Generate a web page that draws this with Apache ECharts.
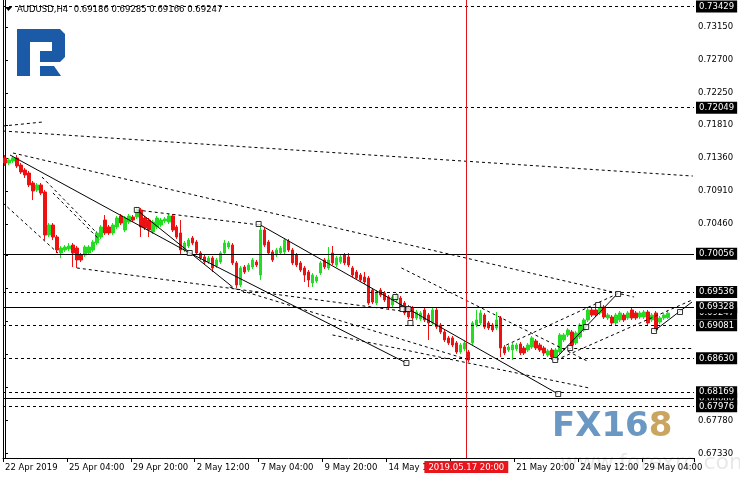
<!DOCTYPE html>
<html><head><meta charset="utf-8">
<script src="https://cdn.jsdelivr.net/npm/echarts@6/dist/echarts.min.js"></script>
<style>html,body{margin:0;padding:0;background:#fff}#c{width:740px;height:480px}</style>
</head><body><div id="c"></div><script>
// ---- data ----
const symbolTitle = 'AUDUSD,H4  0.69186 0.69285 0.69166 0.69247';
// [open, close, low, high]
const candles = [
[0.71363,0.71295,0.71254,0.71404],[0.71295,0.71336,0.71267,0.71363],[0.71322,0.71363,0.71295,0.71390],[0.71363,0.71254,0.71226,0.71404],
[0.71267,0.71172,0.71145,0.71295],[0.71199,0.71131,0.71090,0.71226],[0.71158,0.70995,0.70967,0.71186],[0.71022,0.70913,0.70790,0.71049],
[0.70926,0.70995,0.70899,0.71022],[0.70995,0.70885,0.70858,0.71022],[0.70899,0.70313,0.70244,0.70926],[0.70313,0.70449,0.70285,0.70476],
[0.70449,0.70285,0.70244,0.70476],[0.70285,0.70108,0.70067,0.70313],[0.70067,0.70135,0.69999,0.70163],[0.70108,0.70149,0.70081,0.70176],
[0.70122,0.70163,0.70094,0.70203],[0.70176,0.70067,0.69876,0.70203],[0.70135,0.69972,0.69863,0.70163],[0.70040,0.69972,0.69944,0.70067],
[0.70040,0.70149,0.70013,0.70176],[0.70067,0.70149,0.70040,0.70176],[0.70108,0.70217,0.70081,0.70244],[0.70203,0.70340,0.70176,0.70367],
[0.70285,0.70422,0.70258,0.70449],[0.70517,0.70340,0.70313,0.70585],[0.70422,0.70340,0.70313,0.70449],[0.70340,0.70449,0.70313,0.70476],
[0.70422,0.70545,0.70394,0.70572],[0.70572,0.70476,0.70449,0.70599],[0.70381,0.70545,0.70354,0.70572],[0.70490,0.70572,0.70463,0.70599],
[0.70558,0.70517,0.70490,0.70585],[0.70558,0.70654,0.70531,0.70695],[0.70654,0.70422,0.70285,0.70681],[0.70545,0.70408,0.70381,0.70572],
[0.70517,0.70381,0.70285,0.70545],[0.70354,0.70490,0.70326,0.70517],[0.70422,0.70545,0.70394,0.70572],[0.70449,0.70517,0.70422,0.70545],
[0.70504,0.70531,0.70476,0.70558],[0.70490,0.70572,0.70463,0.70599],[0.70572,0.70381,0.70354,0.70599],[0.70422,0.70285,0.70258,0.70449],
[0.70340,0.70108,0.70040,0.70517],[0.70108,0.70203,0.70081,0.70231],[0.70163,0.70244,0.70135,0.70272],[0.70272,0.70203,0.70176,0.70299],
[0.70217,0.70067,0.70040,0.70244],[0.70067,0.69999,0.69972,0.70094],[0.70013,0.69944,0.69917,0.70040],[0.69944,0.69999,0.69917,0.70026],
[0.69999,0.69863,0.69808,0.70026],[0.69890,0.69972,0.69863,0.69999],[0.69944,0.70067,0.69917,0.70094],[0.70067,0.70203,0.70040,0.70244],
[0.70149,0.70203,0.70122,0.70231],[0.70176,0.69931,0.69903,0.70203],[0.69931,0.69631,0.69590,0.69958],[0.69631,0.69863,0.69603,0.69890],
[0.69876,0.69808,0.69781,0.69903],[0.69835,0.69903,0.69808,0.69931],[0.69876,0.69972,0.69849,0.69999],[0.69944,0.69903,0.69876,0.69972],
[0.69767,0.70381,0.69699,0.70476],[0.70381,0.70176,0.70149,0.70408],[0.70217,0.70067,0.70040,0.70244],[0.70081,0.69972,0.69944,0.70108],
[0.70040,0.70108,0.70013,0.70135],[0.70067,0.70135,0.70040,0.70163],[0.70081,0.70244,0.70053,0.70272],[0.70231,0.70108,0.70081,0.70258],
[0.70108,0.69931,0.69903,0.70135],[0.70040,0.69903,0.69876,0.70067],[0.69931,0.69835,0.69808,0.69958],[0.69863,0.69767,0.69672,0.69890],
[0.69808,0.69699,0.69603,0.69835],[0.69658,0.69767,0.69603,0.69794],[0.69685,0.69740,0.69658,0.69767],[0.69794,0.69931,0.69767,0.69958],
[0.69972,0.69876,0.69849,0.69999],[0.69863,0.69972,0.69835,0.70149],[0.70067,0.69931,0.69903,0.70163],[0.69903,0.69999,0.69876,0.70026],
[0.69944,0.70013,0.69917,0.70040],[0.70040,0.69931,0.69903,0.70067],[0.70013,0.69903,0.69876,0.70067],[0.69863,0.69767,0.69740,0.69890],
[0.69808,0.69726,0.69699,0.69835],[0.69767,0.69699,0.69672,0.69794],[0.69740,0.69672,0.69644,0.69808],[0.69726,0.69385,0.69358,0.69753],
[0.69562,0.69399,0.69371,0.69590],[0.69385,0.69535,0.69358,0.69562],[0.69562,0.69494,0.69467,0.69590],[0.69521,0.69426,0.69399,0.69549],
[0.69467,0.69331,0.69303,0.69494],[0.69358,0.69467,0.69331,0.69494],[0.69426,0.69494,0.69399,0.69521],[0.69453,0.69317,0.69290,0.69481],
[0.69385,0.69249,0.69221,0.69412],[0.69331,0.69194,0.69167,0.69358],[0.69317,0.69181,0.69154,0.69344],[0.69181,0.69262,0.69154,0.69290],
[0.69167,0.69249,0.69140,0.69276],[0.69290,0.69154,0.69126,0.69317],[0.69221,0.69113,0.68881,0.69249],[0.69113,0.69290,0.69085,0.69317],
[0.69290,0.69058,0.69031,0.69317],[0.69085,0.68990,0.68963,0.69113],[0.68990,0.68881,0.68853,0.69017],[0.68908,0.68840,0.68812,0.68935],
[0.68908,0.68812,0.68785,0.68935],[0.68840,0.68717,0.68690,0.68867],[0.68717,0.68812,0.68690,0.68840],[0.68758,0.68840,0.68731,0.68867],
[0.68717,0.68608,0.68581,0.68744],[0.68840,0.69113,0.68812,0.69140],[0.69085,0.69154,0.69058,0.69290],[0.69113,0.69249,0.69085,0.69290],
[0.69221,0.69058,0.69031,0.69249],[0.69113,0.69044,0.69017,0.69140],[0.69085,0.69017,0.68990,0.69113],[0.69044,0.69154,0.69017,0.69262],
[0.69181,0.68771,0.68649,0.69208],[0.68785,0.68703,0.68676,0.68812],[0.68744,0.68785,0.68717,0.68812],[0.68744,0.68812,0.68608,0.68840],
[0.68758,0.68812,0.68731,0.68840],[0.68826,0.68703,0.68676,0.68853],[0.68771,0.68703,0.68676,0.68799],[0.68744,0.68812,0.68717,0.68840],
[0.68785,0.68908,0.68758,0.68935],[0.68867,0.68771,0.68744,0.68894],[0.68812,0.68744,0.68717,0.68840],[0.68771,0.68703,0.68662,0.68799],
[0.68676,0.68731,0.68649,0.68758],[0.68744,0.68649,0.68608,0.68771],[0.68649,0.68744,0.68622,0.68771],[0.68717,0.68949,0.68690,0.68976],
[0.68881,0.68949,0.68853,0.68976],[0.68949,0.69017,0.68922,0.69044],[0.68990,0.68812,0.68771,0.69017],[0.68840,0.68976,0.68812,0.69004],
[0.68922,0.69085,0.68894,0.69113],[0.69017,0.69154,0.68990,0.69181],[0.69154,0.69290,0.69126,0.69317],[0.69290,0.69221,0.69194,0.69317],
[0.69290,0.69221,0.69194,0.69317],[0.69249,0.69331,0.69221,0.69358],[0.69331,0.69194,0.69167,0.69358],[0.69181,0.69221,0.69154,0.69249],
[0.69194,0.69113,0.69085,0.69221],[0.69113,0.69221,0.69085,0.69249],[0.69154,0.69249,0.69126,0.69276],[0.69221,0.69154,0.69126,0.69249],
[0.69181,0.69249,0.69154,0.69276],[0.69290,0.69181,0.69154,0.69331],[0.69249,0.69181,0.69154,0.69276],[0.69194,0.69249,0.69167,0.69276],
[0.69194,0.69262,0.69167,0.69290],[0.69262,0.69113,0.69085,0.69290],[0.69154,0.69221,0.69126,0.69249],[0.69249,0.69017,0.68990,0.69276],
[0.69126,0.69181,0.69099,0.69208],[0.69181,0.69221,0.69154,0.69249],[0.69186,0.69247,0.69166,0.69285]
];
const slotCount = 173;
const xTickLabels = ['22 Apr 2019','25 Apr 04:00','29 Apr 20:00','2 May 12:00','7 May 04:00','9 May 20:00','14 May 12:00','','21 May 20:00','24 May 12:00','29 May 04:00'];
const xTickStep = 16;
const yTickValues = [0.6733,0.6778,0.6823,0.6868,0.6913,0.6958,0.7003,0.7046,0.7091,0.7136,0.7181,0.7225,0.7270,0.7315];
const yLabelValues = [0.6733,0.6778,0.7046,0.7091,0.7136,0.7181,0.7225,0.7270,0.7315];
const yMin = 0.67271, yMax = 0.73518;
const dashedLevels = [0.73429,0.72049,0.69536,0.69081,0.68630,0.68169,0.67976];
const solidLevels = [0.70056,0.69328,0.68080];
const priceTags = [0.69247,0.68080,0.73429,0.72049,0.70056,0.69536,0.69328,0.69081,0.68630,0.68169,0.67976];
// trend lines: [[barIndex, price],[barIndex, price]]
const solidTrendLines = [
  [[1.25,0.71404],[46.25,0.70067]],
  [[46.25,0.70067],[100.5,0.68567]],
  [[33,0.70654],[57,0.69603]],
  [[63.5,0.70463],[138.5,0.68144]],
  [[137.5,0.68608],[153.5,0.69521]],
  [[162.5,0.69003],[172,0.69399]]
];
const dashedTrendLines = [
  [[-0.5,0.71731],[172.2,0.71117]],
  [[2,0.71431],[157.5,0.69467]],
  [[-0.5,0.71799],[9.5,0.71854]],
  [[33,0.70654],[63.75,0.70449]],
  [[99.25,0.69863],[146.25,0.68581]],
  [[18,0.69863],[101.25,0.69262]],
  [[56.25,0.69603],[116.25,0.68608]],
  [[82,0.68949],[146.25,0.68226]],
  [[9.25,0.71104],[23,0.70340]],
  [[12,0.70886],[23.75,0.70244]],
  [[-0.5,0.70749],[13.25,0.70067]],
  [[125.5,0.68812],[153.75,0.69521]],
  [[138,0.68608],[172,0.69426]],
  [[139.5,0.68771],[172.4,0.68771]]
];
const pivotMarks = [[33,0.70654],[63.5,0.70463],[46.25,0.70067],[97.75,0.69467],[99.5,0.69303],[101,0.69303],[101.5,0.69113],
  [100.5,0.68567],[137.75,0.68608],[141.5,0.68771],[145.5,0.69058],[148.5,0.69358],[153.5,0.69508],[162.5,0.69003],[169,0.69262],[138.5,0.68144]];
const cursorBar = 115.5;
const cursorLabel = '2019.05.17 20:00';

// ---- chart ----
const FONT = 'DejaVu Sans';
const chart = echarts.init(document.getElementById('c'), null, {renderer:'canvas'});
const cats = candles.map((_, i) => String(i));
while (cats.length < slotCount) cats.push(String(cats.length));
const fmt = v => Number(v).toFixed(5);
const toLines = arr => arr.map(s => ({coords: s}));

chart.setOption({
  animation: false,
  backgroundColor: '#fff',
  grid: {left: 3, right: 46, top: 0, bottom: 22, containLabel: false},
  xAxis: [{
    type: 'category', data: cats, boundaryGap: true,
    axisLine: {show: true, lineStyle: {color: '#000', width: 1}},
    axisTick: {show: true, length: 4, lineStyle: {color: '#000'}, interval: (i) => i % xTickStep === 0},
    axisLabel: {show: true, interval: (i) => i % xTickStep === 0, align: 'left', margin: 5,
      fontFamily: FONT, fontSize: 8.5, color: '#000',
      formatter: (v, i) => xTickLabels[i / xTickStep] || ''},
    splitLine: {show: false}
  }, {
    type: 'value', min: -0.5, max: slotCount - 0.5, show: false
  }],
  yAxis: [{
    type: 'value', position: 'right', min: yMin, max: yMax, scale: true,
    axisLine: {show: true, lineStyle: {color: '#000', width: 1}},
    axisTick: {show: true, length: 3, lineStyle: {color: '#000'}, customValues: yTickValues},
    axisLabel: {show: true, customValues: yLabelValues, margin: 4, fontFamily: FONT, fontSize: 8.5, color: '#000', formatter: fmt},
    splitLine: {show: false}
  }, {
    type: 'value', position: 'left', min: yMin, max: yMax,
    axisLine: {show: true, onZero: false, lineStyle: {color: '#000', width: 1}},
    axisTick: {show: false}, axisLabel: {show: false}, splitLine: {show: false}
  }],
  series: [{
    type: 'candlestick', xAxisIndex: 0, yAxisIndex: 0, data: candles, barWidth: 3,
    itemStyle: {color: '#22dd22', color0: '#ee1111', borderColor: '#22dd22', borderColor0: '#ee1111', borderWidth: 1},
    z: 3,
    markLine: {
      silent: true, symbol: 'none', animation: false, precision: 5,
      lineStyle: {color: 'rgba(0,0,0,0)', width: 0, type: 'solid'},
      label: {show: true, position: 'end', distance: 2, formatter: p => fmt(p.value),
        backgroundColor: '#000', color: '#fff', fontFamily: FONT, fontSize: 8.5, padding: [2, 3, 1, 3], opacity: 1},
      emphasis: {disabled: true},
      data: priceTags.map(v => ({yAxis: v}))
    }
  }, {
    type: 'lines', coordinateSystem: 'cartesian2d', xAxisIndex: 1, yAxisIndex: 0,
    data: toLines(solidTrendLines), lineStyle: {color: '#000', width: 1, type: 'solid', opacity: 1}, z: 4, silent: true
  }, {
    type: 'lines', coordinateSystem: 'cartesian2d', xAxisIndex: 1, yAxisIndex: 0,
    data: toLines(dashedTrendLines), lineStyle: {color: '#000', width: 1, type: [3, 3], opacity: 1}, z: 4, silent: true
  }, {
    type: 'scatter', xAxisIndex: 1, yAxisIndex: 0, data: pivotMarks, symbol: 'rect', symbolSize: 5,
    itemStyle: {color: '#fff', borderColor: '#000', borderWidth: 1}, z: 6, silent: true,
    markLine: {
      silent: true, symbol: 'none', animation: false, precision: 5,
      label: {show: false},
      data: [
        ...dashedLevels.map(v => ({yAxis: v, lineStyle: {color: '#000', width: 1, type: [3, 3]}})),
        ...solidLevels.map(v => ({yAxis: v, lineStyle: {color: '#000', width: 1, type: 'solid'}})),
        {xAxis: cursorBar, lineStyle: {color: '#e0141c', width: 1, type: 'solid'},
         label: {show: true, position: 'start', distance: 3, formatter: cursorLabel,
           backgroundColor: '#e8161c', color: '#fff', fontFamily: FONT, fontSize: 8.5, padding: [2, 4, 1, 4]}}
      ]
    }
  }],
  graphic: [
    {type: 'text', left: 560, top: 452, z: -10, silent: true,
     style: {text: 'www.forexro.com', fontFamily: FONT, fontSize: 22, fill: 'rgba(180,180,180,0.3)'}},
    {type: 'polygon', z: 1, silent: true, shape: {points: [[5,7],[12,7],[8.5,11]]}, style: {fill: '#000'}},
    {type: 'text', left: 17, top: 5, z: 1, silent: true,
     style: {text: symbolTitle, fontFamily: FONT, fontSize: 8.5, fill: '#000'}},
    {type: 'polygon', z: 1, silent: true, shape: {points: [[17,29],[60,29],[65,34],[65,57],[60,62],[40,62],[40,51],[52,51],[52,42],[30,42],[30,76],[17,76]]}, style: {fill: '#1b5aa6'}},
    {type: 'polygon', z: 1, silent: true, shape: {points: [[40,66],[54,66],[61,76],[40,76]]}, style: {fill: '#1b5aa6'}},
    {type: 'text', left: 552, top: 410, z: 1, silent: true,
     style: {text: '{a|FX16}{b|8}', rich: {
       a: {fontFamily: FONT, fontWeight: 'bold', fontSize: 34, fill: '#6b98c2', color: '#6b98c2'},
       b: {fontFamily: FONT, fontWeight: 'bold', fontSize: 34, fill: '#caa560', color: '#caa560'}}}}
  ]
});
</script></body></html>
